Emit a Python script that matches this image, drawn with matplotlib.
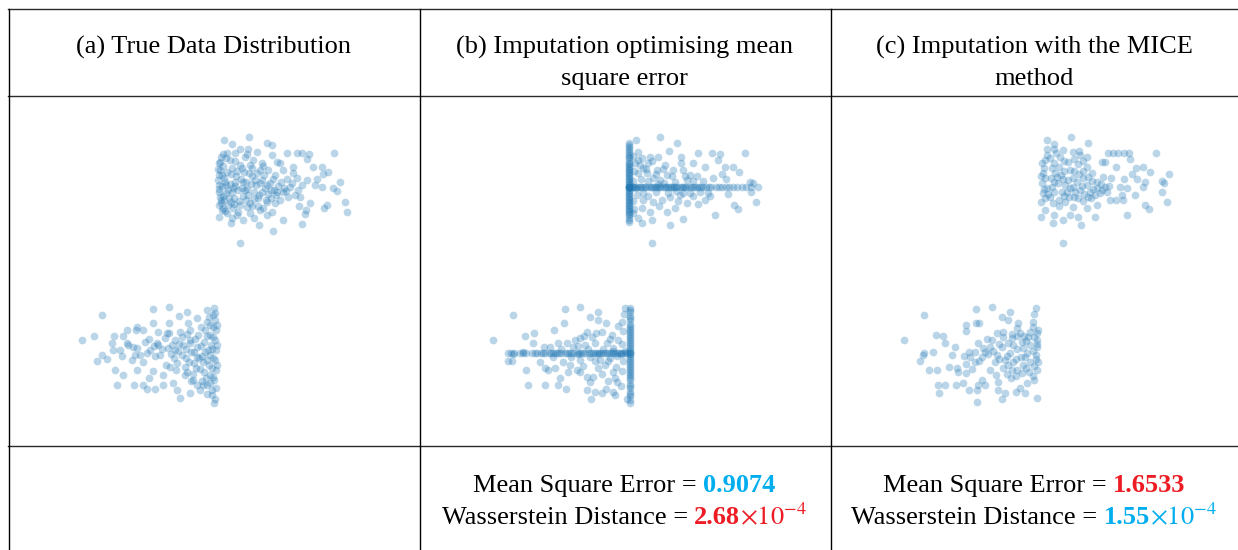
import numpy as np
import matplotlib
matplotlib.use("Agg")
import matplotlib.pyplot as plt
from matplotlib.lines import Line2D
from matplotlib.transforms import IdentityTransform

plt.rcParams['font.family'] = ['Liberation Serif', 'DejaVu Serif']
plt.rcParams['mathtext.fontset'] = 'stix'

W, H = 1238, 550

# ---- scatter data (x, y) ----
# (a) true data
a_top = [
    (0.64, 2.68), (0.14, 2.62), (0.30, 2.54), (1.00, 2.56), (1.10, 2.52), (1.40, 2.36), (1.60, 2.36),
    (1.70, 2.36), (1.84, 2.34), (1.80, 2.24), (2.34, 2.36), (0.46, 0.56), (1.12, 0.80), (0.84, 0.92),
    (0.28, 0.96), (0.04, 1.08), (0.52, 1.02), (1.32, 1.02), (1.70, 0.94), (2.60, 1.18), (2.56, 1.38),
    (2.46, 1.78), (2.40, 1.60), (2.32, 1.66), (2.20, 1.32), (2.14, 1.26), (2.10, 2.08), (2.22, 1.98),
    (2.12, 1.94), (2.00, 1.84), (1.92, 2.08), (1.86, 1.36), (1.76, 1.14), (1.78, 1.22), (1.64, 1.30),
    (1.66, 1.48), (1.52, 2.08), (1.52, 1.96), (1.40, 1.84), (1.20, 2.18), (1.10, 1.18), (0.92, 1.26),
    (1.10, 2.32), (0.80, 2.38), (0.46, 2.44), (0.62, 2.44), (1.60, 1.86), (1.80, 1.82), (1.96, 1.72),
    (2.10, 1.68), (1.46, 1.68), (1.32, 1.58), (1.42, 1.48), (1.26, 1.42), (1.16, 1.36), (1.00, 1.38),
    (0.86, 1.22), (0.66, 1.16), (0.40, 1.12), (0.20, 1.16), (0.10, 1.22), (0.32, 1.26), (1.26, 2.16),
    (1.32, 2.02), (1.16, 1.92), (1.02, 2.02), (0.90, 2.16), (0.72, 2.22), (0.56, 2.28), (0.36, 2.36),
    (0.20, 2.36), (0.08, 2.28), (0.04, 2.16),
    (0.06, 2.02), (0.14, 1.86), (0.10, 1.70), (0.18, 1.56), (0.08, 1.42), (0.22, 1.32), (0.30, 2.06),
    (0.38, 1.90), (0.26, 1.74), (0.42, 1.62), (0.34, 1.46), (0.46, 1.32), (0.54, 1.98), (0.58, 1.78),
    (0.50, 1.66), (0.62, 1.52), (0.66, 1.36), (0.70, 1.90), (0.78, 1.72), (0.74, 1.58), (0.82, 1.46),
    (0.90, 1.82), (0.96, 1.66), (1.02, 1.54), (1.06, 1.76), (1.14, 1.62), (1.22, 1.70), (0.26, 2.22),
    (0.46, 2.12), (0.66, 2.12), (0.86, 2.02), (0.04, 1.58), (0.12, 1.26), (0.20, 1.98), (0.32, 1.66),
    (0.56, 1.62), (0.76, 1.82), (0.90, 1.58), (0.36, 1.78), (0.22, 1.62), (0.58, 1.42), (0.42, 1.18),
    (0.82, 1.30), (0.98, 1.42), (1.18, 1.52), (1.34, 1.66), (0.02, 1.82), (0.06, 2.18), (0.18, 2.26),
    (0.52, 1.78), (0.04, 1.92), (0.04, 1.72), (0.06, 1.48), (0.04, 1.32), (0.14, 1.42), (0.18, 1.72),
    (0.12, 2.10), (0.28, 1.94), (0.16, 1.78), (0.30, 1.58), (0.12, 1.50), (0.28, 1.38), (0.40, 2.00),
    (0.48, 1.84), (0.36, 1.70), (0.52, 1.50), (0.44, 1.40), (0.60, 1.28), (0.64, 1.96), (0.68, 1.74),
    (0.60, 1.64), (0.74, 1.44), (0.80, 1.96), (0.86, 1.76), (0.84, 1.52), (0.94, 1.92), (1.00, 1.72),
    (1.08, 1.62), (1.12, 1.84), (1.20, 1.58), (1.28, 1.78), (1.38, 1.60), (0.10, 1.92), (0.24, 1.46),
    (0.50, 2.06), (0.70, 2.06), (0.92, 2.10), (1.08, 1.46), (0.16, 1.20), (0.34, 1.34), (0.70, 1.30),
    (0.04, 1.64), (0.08, 1.36), (0.02, 2.04), (0.12, 2.34), (0.36, 2.20), (0.60, 2.34), (1.50, 1.76),
    (1.62, 1.62), (1.70, 1.72), (1.56, 1.52), (0.74, 1.06), (0.30, 1.06), (1.00, 1.12),
]
a_bottom = [
    (-2.70, -1.38), (-2.46, -1.30), (-2.30, -0.88), (-2.40, -1.80), (-2.30, -1.68), (-2.20, -1.76),
    (-2.08, -1.58), (-2.06, -1.30), (-1.88, -1.30), (-1.90, -1.70), (-2.04, -1.98), (-2.00, -2.28),
    (-1.88, -2.08), (-1.80, -1.44), (-1.80, -1.18), (-1.62, -1.18), (-1.60, -1.12), (-1.48, -1.18),
    (-1.28, -0.76), (-0.96, -0.72), (-1.28, -1.04), (-1.68, -1.52), (-1.70, -1.78), (-1.60, -1.98),
    (-1.66, -2.28), (-1.48, -2.28), (-1.36, -2.14), (-1.40, -2.36), (-1.24, -2.36), (-1.18, -1.22),
    (-1.20, -1.44), (-1.40, -1.64), (-1.48, -1.82), (-1.28, -2.00), (-1.08, -2.08), (-1.08, -2.28),
    (-0.96, -1.04), (-1.00, -1.24), (-0.76, -0.90), (-0.60, -0.82), (-0.20, -0.78), (-0.06, -0.74),
    (-0.08, -0.88), (-0.40, -0.94), (-0.58, -1.04), (-0.74, -2.54), (-0.54, -2.44), (-0.20, -2.46),
    (-0.04, -2.56), (-0.06, -2.64), (-0.34, -2.38), (-0.80, -2.38), (-0.88, -2.24), (-0.94, -1.92),
    (-0.84, -1.58), (-0.70, -1.32), (-0.54, -1.44), (-0.40, -1.72), (-0.60, -2.02), (-0.48, -2.18),
    (-0.28, -2.28), (-0.10, -2.38),
    (-0.04, -0.98), (-0.02, -1.18), (-0.04, -1.38), (-0.02, -1.58), (-0.04, -1.78), (-0.02, -1.98),
    (-0.06, -2.18), (-0.14, -1.08), (-0.14, -1.28), (-0.12, -1.48), (-0.14, -1.68), (-0.16, -1.88),
    (-0.14, -2.08), (-0.24, -1.18), (-0.26, -1.42), (-0.24, -1.62), (-0.28, -1.82), (-0.26, -2.02),
    (-0.38, -1.28), (-0.40, -1.52), (-0.36, -1.74), (-0.42, -1.94), (-0.54, -1.18), (-0.54, -1.38),
    (-0.52, -1.62), (-0.56, -1.82), (-0.68, -1.48), (-0.70, -1.68), (-0.74, -1.22), (-0.84, -1.38),
    (-0.86, -1.74), (-0.98, -1.54), (-1.04, -1.34), (-1.14, -1.68), (-1.18, -1.48), (-1.34, -1.58),
    (-1.44, -1.42), (-1.54, -1.68), (-0.64, -2.08), (-0.82, -1.98), (-1.02, -1.88), (-0.20, -2.28),
    (0.00, -1.48), (0.00, -1.08), (0.00, -1.88), (-0.10, -2.48), (-1.78, -1.48), (-1.94, -1.58),
    (-1.64, -1.68),
    (-0.08, -1.12), (-0.08, -1.32), (-0.10, -1.56), (-0.08, -1.74), (-0.10, -1.94), (-0.08, -2.12),
    (-0.20, -1.02), (-0.20, -1.30), (-0.18, -1.58), (-0.20, -1.78), (-0.22, -2.14), (-0.32, -1.12),
    (-0.32, -1.50), (-0.30, -1.70), (-0.34, -1.96), (-0.44, -1.36), (-0.46, -1.62), (-0.46, -1.84),
    (-0.48, -2.06), (-0.60, -1.26), (-0.62, -1.56), (-0.62, -1.74), (-0.64, -1.92), (-0.76, -1.46),
    (-0.78, -1.60), (-0.80, -1.84), (-0.90, -1.48), (-0.92, -1.66), (-1.10, -1.56), (-1.26, -1.50),
    (-1.24, -1.70), (-0.02, -2.34), (-0.14, -2.24), (-0.04, -0.84), (-0.16, -0.92), (-0.30, -2.20),
    (-0.40, -2.28), (-0.52, -2.20), (-0.96, -1.24), (-1.36, -1.36), (-1.60, -1.54), (-2.10, -1.44),
]

# (b) imputation optimising mean square error
b_top = [
    (0.16, 2.62), (0.64, 2.68), (0.98, 2.56), (0.82, 2.40), (1.40, 2.36), (1.68, 2.36), (1.84, 2.34),
    (1.80, 2.22), (2.34, 2.36), (1.06, 2.28), (1.06, 2.16), (1.30, 2.16), (1.54, 2.08), (1.94, 2.08),
    (2.10, 2.08), (2.22, 1.98), (1.88, 1.94), (1.96, 1.84), (1.70, 1.86), (2.44, 1.78), (2.50, 1.76),
    (2.60, 1.68), (2.46, 1.58), (2.56, 1.38), (2.12, 1.32), (2.20, 1.24), (2.00, 1.54), (1.64, 1.50),
    (1.54, 1.42), (1.40, 1.34), (1.74, 1.12), (1.10, 1.04), (0.84, 0.92), (0.48, 0.56), (0.28, 0.96),
    (0.48, 1.02), (0.94, 1.26), (0.78, 1.18), (1.18, 1.36), (1.38, 1.90), (1.24, 1.92), (1.10, 2.02),
    (0.90, 2.02), (0.74, 2.12), (0.60, 2.28), (0.44, 2.28), (0.28, 2.26), (0.20, 2.38), (0.40, 2.16),
    (0.38, 1.96), (0.50, 1.86), (0.64, 1.82), (0.78, 1.92), (0.20, 1.96), (0.18, 1.52), (0.30, 1.42),
    (0.50, 1.38), (0.68, 1.42), (0.84, 1.48), (1.04, 1.52), (0.28, 1.26), (0.44, 1.18), (0.10, 1.16),
    (0.20, 1.06), (1.18, 1.82), (0.94, 1.78), (1.44, 1.58), (1.24, 1.56), (0.14, 2.16), (0.30, 2.06),
    (0.58, 2.02),
    (0.10, 2.30), (0.12, 2.00), (0.10, 1.80), (0.10, 1.40), (0.12, 1.24), (0.24, 2.12), (0.26, 1.84),
    (0.30, 1.56), (0.36, 2.04), (0.40, 1.80), (0.40, 1.50), (0.56, 1.94), (0.56, 1.58), (0.62, 1.30),
    (0.70, 2.04), (0.72, 1.76), (0.80, 1.56), (0.88, 1.90), (0.96, 1.60), (1.00, 1.40), (1.14, 1.90),
    (1.10, 1.56), (1.30, 1.80), (1.30, 1.50), (1.50, 1.80), (1.60, 1.56), (0.20, 2.22), (0.48, 2.20),
    (0.16, 1.66), (0.60, 1.74),
]
# top cluster: points whose x was imputed (they sit on the left edge) and whose y was imputed (mean row)
b_top_edge_x = 0.02
b_top_edge_y = [2.56, 2.48, 2.40, 2.32, 2.26, 2.20, 2.14, 2.08, 2.02, 1.96, 1.90, 1.84, 1.78, 1.72,
                1.66, 1.60, 1.54, 1.48, 1.42, 1.36, 1.30, 1.24, 1.18, 1.12, 1.06, 0.98, 2.44, 2.28,
                2.11, 1.93, 1.75, 1.63, 1.51, 1.39, 1.21, 1.69, 1.69, 1.69, 2.52, 2.36, 2.17, 2.05,
                1.99, 1.87, 1.81, 1.57, 1.45, 1.33, 1.27, 1.15, 1.02, 1.69, 1.69]
b_top_mean_y = 1.69
b_top_mean_x = [0.04, 0.10, 0.16, 0.20, 0.26, 0.30, 0.36, 0.42, 0.48, 0.52, 0.58, 0.64, 0.70, 0.76,
                0.80, 0.86, 0.92, 0.98, 1.04, 1.10, 1.16, 1.22, 1.30, 1.38, 1.46, 1.56, 1.66, 1.76,
                1.88, 2.02, 2.18, 2.36, 0.12, 0.34, 0.56, 0.74, 0.90, 1.08, 1.26, 1.50, 0.07, 0.23,
                0.45, 0.62, 0.83, 0.95, 1.13, 1.34, 1.42, 1.62, 1.82, 1.96, 2.10, 2.28, 2.46]

b_bottom = [
    (-2.70, -1.38), (-2.30, -0.88), (-2.40, -1.80), (-2.32, -1.80), (-2.30, -1.66), (-2.10, -1.62),
    (-2.06, -1.30), (-1.88, -1.24), (-1.90, -1.44), (-2.04, -1.98), (-2.00, -2.28), (-1.76, -1.82),
    (-1.68, -1.52), (-1.66, -1.94), (-1.60, -1.98), (-1.66, -2.28), (-1.48, -1.18), (-1.28, -1.04),
    (-1.26, -0.76), (-0.96, -0.72), (-1.40, -1.44), (-1.36, -2.14), (-1.40, -2.28), (-1.24, -2.36),
    (-1.46, -1.94), (-1.22, -1.44), (-1.06, -1.38), (-0.96, -1.34), (-0.76, -0.92), (-0.60, -0.82),
    (-0.60, -0.98), (-0.44, -1.04), (-0.06, -0.74), (-0.08, -0.86), (-0.12, -1.02), (-0.82, -1.22),
    (-0.72, -1.32), (-0.52, -1.22), (-0.32, -1.28), (-0.20, -1.38), (-0.42, -1.44), (-1.02, -1.98),
    (-0.96, -2.02), (-0.82, -2.12), (-0.76, -2.22), (-0.82, -2.38), (-0.66, -2.42), (-0.74, -2.56),
    (-0.52, -2.44), (-0.44, -2.36), (-0.30, -2.42), (-0.26, -2.48), (-0.02, -2.56), (0.04, -2.64),
    (-0.60, -1.94), (-0.46, -1.88), (-0.30, -2.02), (-0.22, -2.22), (-0.56, -1.78), (-0.96, -1.78),
    (-1.16, -1.88), (-1.30, -1.82), (-0.76, -1.72), (-0.36, -1.74), (-1.10, -1.52), (-0.86, -1.48),
    (-0.66, -1.44), (-0.30, -1.54), (-1.56, -1.52),
    (-0.10, -1.20), (-0.12, -1.46), (-0.10, -1.80), (-0.12, -2.00), (-0.14, -2.30), (-0.20, -1.10),
    (-0.22, -1.70), (-0.24, -1.92), (-0.26, -2.14), (-0.36, -1.36), (-0.40, -1.80), (-0.40, -2.20),
    (-0.50, -1.56), (-0.52, -2.06), (-0.64, -1.24), (-0.66, -1.80), (-0.70, -2.12), (-0.80, -1.56),
    (-0.88, -1.30), (-0.90, -1.90), (-1.00, -1.50), (-1.14, -1.72), (-1.20, -2.02), (-1.34, -1.56),
    (-1.50, -1.72), (-0.06, -1.60), (-0.14, -1.66), (-0.30, -1.60), (-0.60, -1.66), (-1.00, -1.66),
]
b_bottom_edge_x = 0.04
b_bottom_edge_y = [-0.74, -0.82, -0.90, -0.98, -1.06, -1.14, -1.22, -1.30, -1.38, -1.46, -1.54,
                   -1.62, -1.70, -1.78, -1.86, -1.94, -2.02, -2.10, -2.18, -2.26, -2.34, -2.42,
                   -2.50, -2.58, -1.10, -1.34, -1.58, -1.82, -2.06, -1.26, -1.50, -1.74, -1.98,
                   -0.78, -0.94, -1.18, -1.42, -1.66, -1.90, -2.14, -2.30, -2.46, -1.63, -1.63]
b_bottom_mean_y = -1.63
b_bottom_mean_x = [-2.40, -2.28, -2.16, -2.04, -1.92, -1.82, -1.74, -1.66, -1.58, -1.50, -1.42,
                   -1.34, -1.26, -1.18, -1.10, -1.02, -0.94, -0.86, -0.78, -0.70, -0.62, -0.54,
                   -0.46, -0.38, -0.30, -0.22, -0.14, -0.06, -1.46, -1.22, -0.98, -0.74, -0.50,
                   -0.26, -0.10, -0.66, -0.42, -0.18, -2.34, -2.10, -1.86, -1.70, -1.54, -1.38,
                   -1.14, -0.90, -0.58, -0.34, -0.02]

# (c) imputation with MICE
c_top = [
    (0.64, 2.68), (0.16, 2.62), (0.30, 2.54), (0.98, 2.56), (0.16, 2.44), (0.30, 2.44), (0.80, 2.40),
    (1.38, 2.36), (1.48, 2.36), (1.58, 2.36), (1.70, 2.36), (1.80, 2.36), (1.82, 2.24), (2.34, 2.36),
    (1.26, 2.18), (1.32, 2.18), (1.54, 2.08), (1.94, 2.06), (2.08, 2.08), (2.22, 1.98), (1.86, 1.94),
    (1.96, 1.84), (2.60, 1.94), (2.46, 1.80), (2.50, 1.76), (2.12, 1.78), (2.08, 1.68), (1.92, 1.52),
    (2.46, 1.58), (2.56, 1.38), (2.12, 1.32), (2.20, 1.24), (1.76, 1.12), (1.70, 1.84), (1.62, 1.68),
    (1.76, 1.66), (1.66, 1.52), (1.68, 1.42), (1.54, 1.42), (1.42, 1.42), (1.44, 1.86), (1.28, 1.88),
    (1.12, 1.08), (0.84, 0.92), (0.48, 0.56), (0.48, 1.02), (0.28, 0.96), (0.04, 1.08), (0.04, 1.38),
    (0.12, 1.22), (1.16, 1.32), (0.96, 1.26), (0.68, 1.28), (0.52, 1.38), (0.28, 1.36), (0.30, 1.12),
    (0.62, 1.12), (0.78, 1.08),
    (0.06, 2.16), (0.08, 1.96), (0.06, 1.76), (0.08, 1.56), (0.22, 2.26), (0.26, 2.06), (0.24, 1.86),
    (0.26, 1.68), (0.22, 1.48), (0.42, 2.28), (0.40, 2.08), (0.44, 1.92), (0.38, 1.76), (0.46, 1.58),
    (0.40, 1.42), (0.58, 2.18), (0.62, 2.02), (0.58, 1.82), (0.62, 1.66), (0.60, 1.48), (0.78, 2.14),
    (0.80, 1.94), (0.76, 1.78), (0.82, 1.62), (0.78, 1.46), (0.96, 2.08), (0.98, 1.88), (0.96, 1.72),
    (1.02, 1.58), (0.98, 1.48), (1.16, 1.78), (1.16, 1.66), (1.22, 1.56), (1.12, 1.52), (1.32, 1.68),
    (1.36, 1.58), (0.82, 2.32), (0.96, 2.28), (0.48, 2.42), (0.68, 2.38), (0.12, 2.22), (0.16, 1.66),
    (0.52, 1.72), (0.68, 1.68), (0.88, 1.86), (0.36, 1.88), (0.72, 1.58), (0.56, 1.58),
    (0.10, 2.06), (0.12, 1.86), (0.10, 1.64), (0.12, 1.46), (0.16, 2.32), (0.30, 2.16), (0.32, 1.96),
    (0.30, 1.78), (0.30, 1.58), (0.34, 2.36), (0.50, 2.20), (0.50, 2.00), (0.48, 1.84), (0.50, 1.50),
    (0.70, 2.24), (0.70, 2.00), (0.68, 1.86), (0.70, 1.48), (0.88, 2.20), (0.88, 2.00), (0.86, 1.70),
    (0.90, 1.54), (1.06, 1.96), (1.06, 1.80), (1.08, 1.64), (1.24, 1.74), (1.26, 1.62), (1.40, 1.70),
    (0.04, 1.90), (0.18, 1.54), (0.40, 1.30), (0.88, 1.40), (1.04, 1.46),
]
c_bottom = [
    (-2.70, -1.38), (-2.30, -0.88), (-2.38, -1.80), (-2.32, -1.68), (-2.30, -1.64), (-2.20, -1.98),
    (-2.12, -1.62), (-2.04, -1.98), (-2.06, -1.28), (-1.92, -1.30), (-1.88, -1.44), (-2.02, -2.28),
    (-2.00, -2.44), (-1.88, -2.28), (-1.80, -1.92), (-1.74, -1.68), (-1.68, -1.52), (-1.64, -1.94),
    (-1.62, -2.02), (-1.66, -2.28), (-1.52, -2.24), (-1.46, -2.04), (-1.46, -1.86), (-1.46, -1.08),
    (-1.46, -1.20), (-1.26, -0.76), (-1.26, -1.04), (-1.20, -1.04), (-0.94, -0.72), (-1.40, -2.38),
    (-1.24, -2.62), (-1.22, -2.28), (-1.14, -2.18), (-1.08, -2.28), (-1.24, -2.38), (-1.40, -1.62),
    (-1.38, -1.72), (-1.22, -1.44), (-1.04, -1.36), (-0.98, -1.52), (-1.02, -1.66), (-1.14, -1.72),
    (-1.28, -1.82), (-0.98, -1.98), (-0.86, -2.08), (-0.82, -2.22), (-0.82, -2.38), (-0.68, -2.44),
    (-0.74, -2.56), (-0.74, -0.92), (-0.58, -0.82), (-0.62, -0.98), (-0.72, -1.22), (-0.84, -1.24),
    (-0.42, -1.04), (-0.06, -0.74), (-0.10, -0.86), (-0.12, -1.02), (-0.02, -1.18), (-0.46, -2.42),
    (-0.38, -2.34), (-0.28, -2.44), (-0.24, -2.24), (-0.04, -2.54), (-0.10, -2.18),
    (-0.72, -1.32), (-0.74, -1.52), (-0.68, -1.78), (-0.72, -1.94), (-0.54, -1.34), (-0.52, -1.48),
    (-0.58, -1.64), (-0.52, -1.82), (-0.54, -1.98), (-0.56, -2.14), (-0.38, -1.24), (-0.34, -1.42),
    (-0.32, -1.54), (-0.36, -1.72), (-0.32, -1.88), (-0.34, -2.04), (-0.22, -1.32), (-0.18, -1.48),
    (-0.24, -1.64), (-0.18, -1.82), (-0.20, -2.02), (-0.04, -1.38), (-0.04, -1.52), (-0.06, -1.68),
    (-0.02, -1.82), (-0.04, -1.98), (-0.04, -1.24), (-0.84, -1.68), (-0.88, -1.82), (-1.12, -1.54),
    (-1.28, -1.62), (-0.94, -1.38), (-0.44, -1.14), (-0.12, -1.12),
    (-0.10, -1.32), (-0.12, -1.60), (-0.10, -1.90), (-0.12, -2.10), (-0.26, -1.40), (-0.28, -1.72),
    (-0.26, -1.94), (-0.44, -1.30), (-0.44, -1.56), (-0.46, -1.76), (-0.44, -1.98), (-0.62, -1.44),
    (-0.64, -1.70), (-0.62, -1.88), (-0.80, -1.46), (-0.80, -1.76), (-0.92, -1.60), (-1.08, -1.62),
    (-0.64, -2.06), (-0.46, -2.10), (-0.18, -1.22), (-0.04, -1.46), (-0.06, -1.76), (-0.30, -1.30),
    (-0.54, -1.26), (-1.20, -1.80), (-1.50, -1.70), (-1.34, -1.96),
]

titles = [
    ["(a) True Data Distribution"],
    ["(b) Imputation optimising mean", "square error"],
    ["(c) Imputation with the MICE", "method"],
]
mse = [None, "0.9074", "1.6533"]
wd = [None, "2.68", "1.55"]

CYAN = "#00AEEF"
RED = "#ED1C24"
POINT = "#1f77b4"

# cell borders in pixels (from the left / from the top)
col_edges = [8, 419, 830, 1238]
row_edges = [9, 96, 446, 550]

fig = plt.figure(figsize=(W / 100, H / 100), dpi=100)


def fx(px):
    return px / W


def fy(py):
    return 1 - py / H


# table rules
for py in row_edges[:3]:
    fig.add_artist(Line2D([fx(col_edges[0]), fx(W)], [fy(py), fy(py)], color="#2a2a2a", lw=1.0))
for px in col_edges[:3]:
    fig.add_artist(Line2D([fx(px + 0.5), fx(px + 0.5)], [fy(row_edges[0]), 0], color="black", lw=1.0))


def sc(ax, x, y):
    ax.scatter(x, y, s=31, color=POINT, alpha=0.3, linewidths=0)


def pts(lst):
    arr = np.array(lst)
    return arr[:, 0], arr[:, 1]


axes = []
for i in range(3):
    left, right = col_edges[i], col_edges[i + 1]
    ax = fig.add_axes([fx(left), fy(row_edges[2]), fx(right - left), (row_edges[2] - row_edges[1]) / H])
    ax.set_xlim(-4.18, -4.18 + (right - left) / 50)
    ax.set_ylim(-3.5, 3.5)
    ax.axis("off")
    axes.append(ax)

sc(axes[0], *pts(a_top))
sc(axes[0], *pts(a_bottom))

sc(axes[1], *pts(b_top))
sc(axes[1], [b_top_edge_x] * len(b_top_edge_y), b_top_edge_y)
sc(axes[1], b_top_mean_x, [b_top_mean_y] * len(b_top_mean_x))
sc(axes[1], *pts(b_bottom))
sc(axes[1], [b_bottom_edge_x] * len(b_bottom_edge_y), b_bottom_edge_y)
sc(axes[1], b_bottom_mean_x, [b_bottom_mean_y] * len(b_bottom_mean_x))

sc(axes[2], *pts(c_top))
sc(axes[2], *pts(c_bottom))

FS = 19
ident = IdentityTransform()

# header row
for i, lines in enumerate(titles):
    xc = (col_edges[i] + col_edges[i + 1]) / 2
    for k, line in enumerate(lines):
        fig.text(xc, H - (54 + 31 * k), line, transform=ident, ha="center", va="baseline", fontsize=FS)

renderer = fig.canvas.get_renderer()


def colored_line(xc, base, pieces):
    # pieces: (text, color, weight); laid out left to right, centred on xc
    items = []
    for s, color, weight in pieces:
        t = fig.text(0, H - base, s, transform=ident, ha="left", va="baseline",
                     fontsize=FS, color=color, fontweight=weight)
        items.append(t)
    widths = [t.get_window_extent(renderer).width for t in items]
    x = xc - sum(widths) / 2
    for t, w in zip(items, widths):
        t.set_x(x)
        x += w


for i in (1, 2):
    xc = (col_edges[i] + col_edges[i + 1]) / 2
    c_mse = CYAN if i == 1 else RED
    c_wd = RED if i == 1 else CYAN
    colored_line(xc, 492, [("Mean Square Error = ", "black", "normal"), (mse[i], c_mse, "bold")])
    colored_line(xc, 524, [("Wasserstein Distance = ", "black", "normal"), (wd[i], c_wd, "bold"),
                           (r"$\times10^{-4}$", c_wd, "normal")])

fig.savefig("out.png", dpi=100)
